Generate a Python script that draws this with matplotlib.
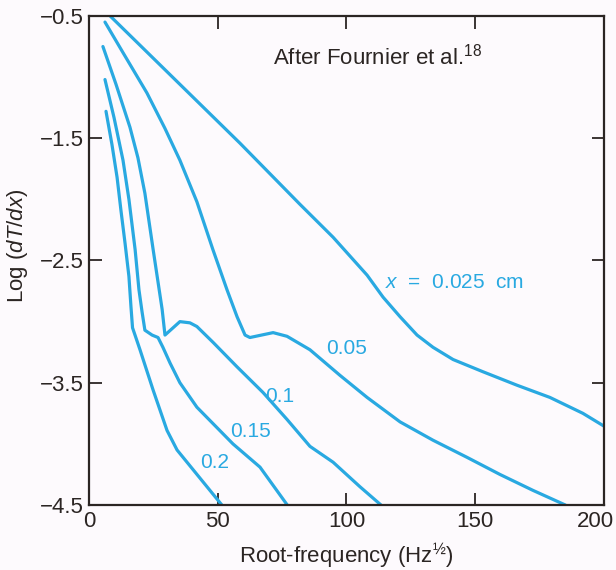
import matplotlib
matplotlib.use("Agg")
import matplotlib.pyplot as plt
from matplotlib.transforms import ScaledTranslation

plt.rcParams["font.family"] = ["Liberation Sans", "DejaVu Sans"]
plt.rcParams["mathtext.fontset"] = "custom"
plt.rcParams["mathtext.rm"] = "Liberation Sans"
plt.rcParams["mathtext.it"] = "Liberation Sans:italic"

# curves: root-frequency vs log(dT/dx)
x_025 = [8.2, 58.6, 81.9, 94.8, 108.0, 114.2, 120.8, 127.4, 133.6, 141.4, 153.0, 166.2, 179.0, 191.8, 200.4]
y_025 = [-0.50, -1.54, -2.04, -2.31, -2.62, -2.80, -2.96, -3.11, -3.21, -3.31, -3.41, -3.52, -3.62, -3.75, -3.86]

x_05 = [6.2, 13.2, 22.5, 29.5, 35.3, 41.9, 48.1, 53.6, 57.5, 60.6, 62.5, 71.5, 76.9, 85.8, 97.5, 108.0,
        120.8, 133.6, 146.8, 159.6, 172.4, 185.0]
y_05 = [-0.55, -0.80, -1.13, -1.42, -1.68, -2.02, -2.41, -2.74, -2.96, -3.11, -3.13, -3.09, -3.12, -3.23, -3.44, -3.62,
        -3.82, -3.97, -4.11, -4.25, -4.38, -4.50]

x_1 = [5.4, 10.5, 15.9, 19.0, 21.7, 24.9, 28.4, 29.5, 35.3, 39.2, 41.9, 48.2, 57.5, 67.6, 76.9, 85.8, 94.8, 105.2, 113.4]
y_1 = [-0.75, -1.06, -1.41, -1.66, -1.95, -2.41, -2.90, -3.11, -3.00, -3.01, -3.04, -3.17, -3.37, -3.58, -3.80, -4.02,
       -4.15, -4.35, -4.50]

x_15 = [6.2, 9.7, 13.2, 15.5, 17.9, 19.4, 20.6, 21.7, 24.5, 26.8, 28.7, 31.5, 35.3, 41.9, 55.9, 66.4, 77.0]
y_15 = [-1.02, -1.33, -1.68, -2.00, -2.41, -2.74, -2.92, -3.07, -3.11, -3.13, -3.21, -3.34, -3.50, -3.70, -4.00, -4.19,
        -4.50]

x_2 = [6.6, 8.9, 10.9, 12.4, 14.0, 15.5, 16.3, 16.9, 19.8, 24.9, 30.3, 34.2, 51.6]
y_2 = [-1.28, -1.55, -1.82, -2.09, -2.36, -2.63, -2.88, -3.05, -3.23, -3.56, -3.89, -4.05, -4.50]

curves = [(x_025, y_025), (x_05, y_05), (x_1, y_1), (x_15, y_15), (x_2, y_2)]

# label text and anchor (left edge, vertical centre) in data units
labels = ["$x$  =  0.025  cm", "0.05", "0.1", "0.15", "0.2"]
label_x = [115.0, 92.0, 68.3, 54.8, 43.1]
label_y = [-2.68, -3.22, -3.615, -3.90, -4.15]

xticks = [0, 50, 100, 150, 200]
yticks = [-4.5, -3.5, -2.5, -1.5, -0.5]
ytick_labels = ["\u22124.5", "\u22123.5", "\u22122.5", "\u22121.5", "\u22120.5"]

blue = "#29a9e1"
ink = "#2b2523"

fig = plt.figure(figsize=(6.16, 5.70), dpi=100)
fig.patch.set_facecolor("#fdfafd")
ax = fig.add_axes([0.1445, 0.114, 0.836, 0.858])
ax.set_facecolor("#fdfafd")

for xs, ys in curves:
    ax.plot(xs, ys, color=blue, lw=2.3, solid_capstyle="round", solid_joinstyle="round")

for txt, lx, ly in zip(labels, label_x, label_y):
    ax.text(lx, ly, txt, color=blue, fontsize=15, ha="left", va="center")

ax.text(71.5, -0.835, "After Fournier et al.$^{18}$", color=ink, fontsize=16,
        ha="left", va="center")

ax.set_xlim(0, 200)
ax.set_ylim(-4.5, -0.5)
ax.set_xticks(xticks)
ax.set_yticks(yticks)
ax.set_yticklabels(ytick_labels)
ax.tick_params(direction="in", length=9, width=1.3, colors=ink, labelsize=16,
               top=True, right=True, pad=4)
for s in ax.spines.values():
    s.set_color(ink)
    s.set_linewidth(1.6)

# keep the last x tick label inside the canvas
last = ax.get_xticklabels()[-1]
last.set_transform(last.get_transform() + ScaledTranslation(-6 / 72, 0, fig.dpi_scale_trans))

ax.set_xlabel("Root-frequency (Hz$^{\u00bd}$)", fontsize=16, color=ink, labelpad=7)
ax.set_ylabel("Log ($dT/dx$)", fontsize=16, color=ink, labelpad=5)
ax.yaxis.set_label_coords(-0.115, 0.53)

fig.savefig("out.png", dpi=100, facecolor=fig.get_facecolor())
